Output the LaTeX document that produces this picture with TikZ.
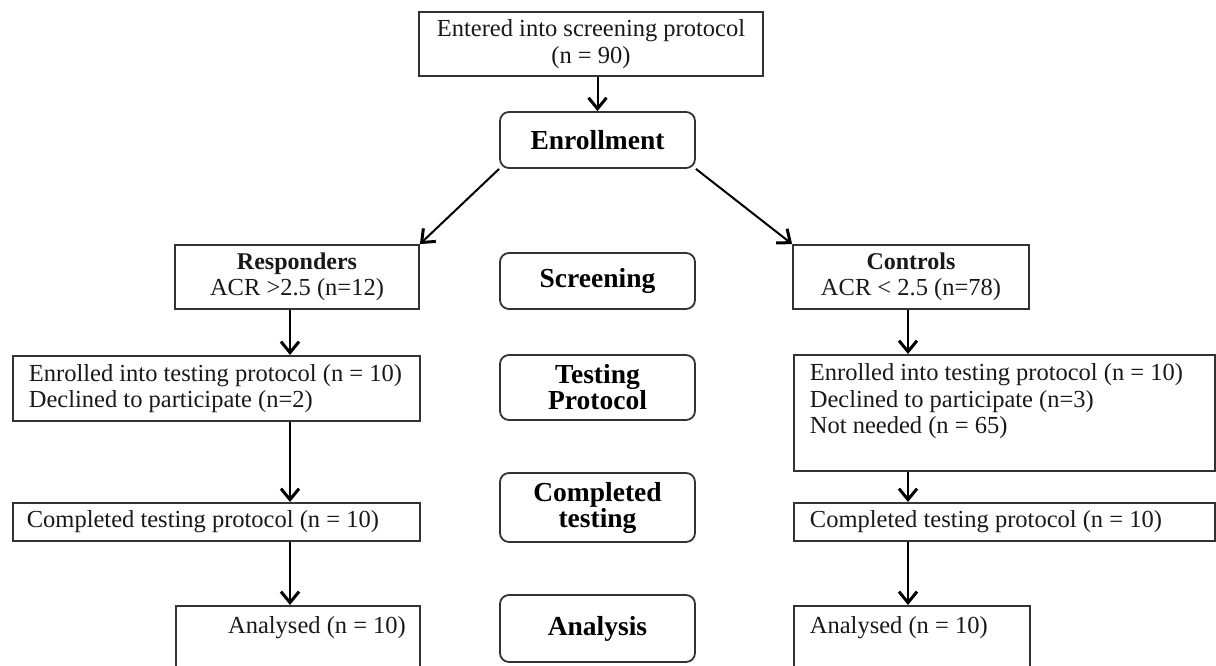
\documentclass[tikz,border=0pt]{standalone}
\usepackage{fontspec}
\setmainfont{Liberation Serif}
\usetikzlibrary{arrows.meta}
\newcommand\bodyfont{\fontsize{24.5}{26.5}\selectfont}
\newcommand\labfont{\fontsize{27.5}{26}\selectfont\bfseries}
\begin{document}
\begin{tikzpicture}[x=1pt,y=-1pt,
  box/.style={draw=black!80, line width=1.8pt, inner sep=0pt, font=\bodyfont, align=center, text=black!90},
  lbox/.style={draw=black!80, line width=1.8pt, inner sep=0pt, font=\bodyfont, text=black!90, anchor=north west},
  stage/.style={draw=black!80, line width=1.8pt, rounded corners=9pt, inner sep=0pt, font=\labfont, align=center, minimum width=195pt},
  arr/.style={line width=2pt, -{Straight Barb[length=11pt,width=18pt,line width=3pt]}}]
\clip (0,0) rectangle (1216,666);
\fill[white] (0,0) rectangle (1216,666);
\coordinate (lx) at (290,0);
\coordinate (rx) at (908,0);
% centre column
\node[box, minimum width=344pt, minimum height=64pt] (top) at (591,44) {Entered into screening protocol\\(n = 90)};
\node[stage, minimum height=56pt] (enr) at (597.5,140) {Enrollment};
\node[stage, minimum height=56pt] (scr) at (597.5,281) {Screening};
\node[stage, minimum height=65pt] (tp) at (597.5,387.5) {Testing\\Protocol};
\node[stage, minimum height=69pt] (ct) at (597.5,507.5) {Completed\\testing};
\node[stage, minimum height=67pt] (an) at (597.5,628.5) {Analysis};
% left column
\node[box, minimum width=244pt, minimum height=64pt] (resp) at (297,277) {{\fontsize{24}{26}\selectfont\bfseries Responders}\\ACR >2.5 (n=12)};
\node[lbox, inner xsep=16pt] (lenr) at (12,355) {\parbox[c][65pt][c]{375pt}{Enrolled into testing protocol (n = 10)\\Declined to participate (n=2)}};
\node[lbox, inner xsep=14pt] (lcom) at (12,502) {\parbox[c][38pt][c]{379pt}{Completed testing protocol (n = 10)}};
\node[lbox] (lan) at (175,605) {\parbox[c][80pt][t]{244pt}{\vspace*{11pt}\hfill Analysed (n = 10)\hspace*{14pt}}};
% right column
\node[box, minimum width=236pt, minimum height=64pt] (ctrl) at (911,277) {{\fontsize{24}{26}\selectfont\bfseries Controls}\\ACR < 2.5 (n=78)};
\node[lbox, inner xsep=16pt] (renr) at (793,354) {\parbox[c][116pt][t]{389pt}{\vspace*{9pt}Enrolled into testing protocol (n = 10)\\Declined to participate (n=3)\\Not needed (n = 65)}};
\node[lbox, inner xsep=16pt] (rcom) at (793,502) {\parbox[c][38pt][c]{389pt}{Completed testing protocol (n = 10)}};
\node[lbox] (ran) at (793,605) {\parbox[c][80pt][t]{236pt}{\vspace*{11pt}\hspace*{16pt}Analysed (n = 10)\hfill}};
% connectors
\draw[arr] (top.south -| enr.north) -- (enr.north);
\draw[arr] (enr.south west) -- (resp.north east);
\draw[arr] (enr.south east) -- (ctrl.north west);
\draw[arr] (resp.south -| lx) -- (lenr.north -| lx);
\draw[arr] (lenr.south -| lx) -- (lcom.north -| lx);
\draw[arr] (lcom.south -| lx) -- (lan.north -| lx);
\draw[arr] (ctrl.south -| rx) -- (renr.north -| rx);
\draw[arr] (renr.south -| rx) -- (rcom.north -| rx);
\draw[arr] (rcom.south -| rx) -- (ran.north -| rx);
\end{tikzpicture}
\end{document}
